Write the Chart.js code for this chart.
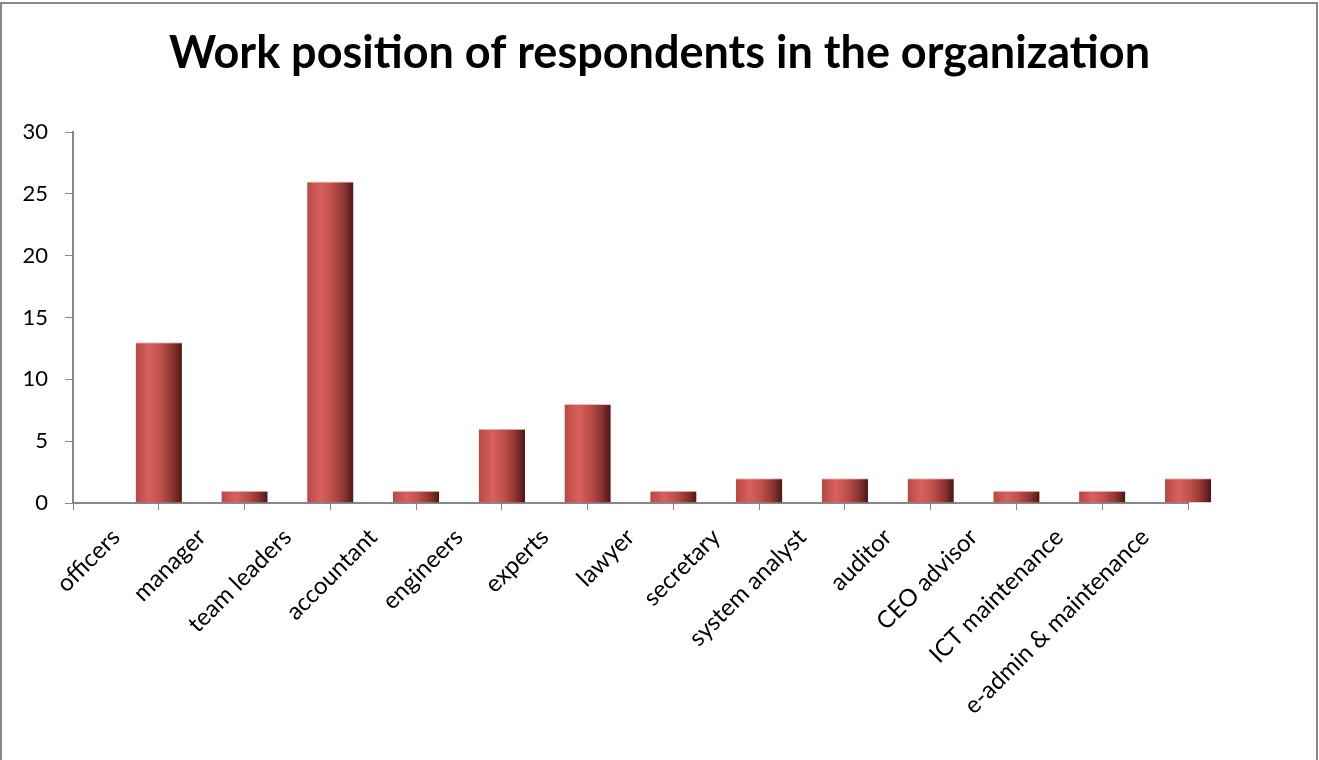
<!DOCTYPE html>
<html>
<head>
<meta charset="utf-8">
<title>Work position of respondents in the organization</title>
<script src="https://cdn.jsdelivr.net/npm/chart.js@4"></script>
<style>
  html, body { margin: 0; padding: 0; background: #fff; overflow: hidden; }
  #wrap { position: relative; width: 1319px; height: 760px; }
  #frame {
    position: absolute; left: 0; top: 2px; width: 1318px; height: 760px;
    box-sizing: border-box;
    border-left: 2px solid #878787; border-top: 2px solid #878787; border-right: 2px solid #878787;
    pointer-events: none;
  }
</style>
</head>
<body>
<div id="wrap">
  <canvas id="positionChart" width="1319" height="760"></canvas>
  <div id="frame"></div>
</div>
<script>
const positions = ['officers', 'manager', 'team leaders', 'accountant', 'engineers', 'experts',
  'lawyer', 'secretary', 'system analyst', 'auditor', 'CEO advisor', 'ICT maintenance',
  'e-admin & maintenance'];
const respondents = [13, 1, 26, 1, 6, 8, 1, 2, 2, 2, 1, 1, 2];
const yTicks = [0, 5, 10, 15, 20, 25, 30];

const axisGray = '#878787';
const barShare = 0.54;

// bars sit on the category boundaries, so they use a hidden linear axis 0..n
const barPoints = respondents.map((v, i) => ({ x: i + 1, y: v }));

function cylinderFill(c) {
  const chart = c.chart;
  const xs = chart.scales.xb;
  if (!xs || c.type !== 'data' || !c.raw) return '#c0504d';
  const step = xs.getPixelForValue(1) - xs.getPixelForValue(0);
  const half = step * barShare / 2;
  const cx = xs.getPixelForValue(c.raw.x);
  if (!isFinite(step) || !isFinite(cx) || step <= 0) return '#c0504d';
  const g = chart.ctx.createLinearGradient(cx - half, 0, cx + half, 0);
  g.addColorStop(0, '#b84845');
  g.addColorStop(0.3, '#d9605d');
  g.addColorStop(0.55, '#bd4f4b');
  g.addColorStop(0.8, '#8c3431');
  g.addColorStop(1, '#4e1515');
  return g;
}

const ctx = document.getElementById('positionChart').getContext('2d');
const positionChart = new Chart(ctx, {
  type: 'bar',
  data: {
    labels: positions,
    datasets: [{
      label: 'Respondents',
      data: barPoints,
      xAxisID: 'xb',
      backgroundColor: cylinderFill,
      borderColor: '#e8bcbb',
      borderWidth: { top: 1, left: 0, right: 0, bottom: 0 },
      borderSkipped: false,
      barPercentage: barShare,
      categoryPercentage: 1,
      clip: false
    }]
  },
  options: {
    responsive: false,
    animation: false,
    plugins: {
      legend: { display: false },
      tooltip: { enabled: false },
      title: {
        display: true,
        text: 'Work position of respondents in the organization',
        color: '#000',
        font: { family: 'Lato', size: 45, weight: 'bold', lineHeight: 1.2 },
        padding: { top: 26, bottom: 52 }
      }
    },
    scales: {
      x: {
        type: 'category',
        offset: true,
        afterFit: (s) => { s.height = 257; },
        border: { display: true, color: axisGray, width: 2 },
        grid: { offset: true, drawOnChartArea: false, drawTicks: true, tickLength: 7, color: axisGray },
        ticks: {
          autoSkip: false,
          minRotation: 45,
          maxRotation: 45,
          padding: 13,
          color: '#000',
          font: { family: 'Lato', size: 24 }
        }
      },
      xb: {
        type: 'linear',
        display: false,
        offset: false,
        min: 0,
        max: positions.length,
        ticks: { stepSize: 1 }
      },
      y: {
        min: yTicks[0],
        max: yTicks[yTicks.length - 1],
        afterFit: (s) => { s.width = 73; },
        afterBuildTicks: (s) => { s.ticks = yTicks.map(v => ({ value: v })); },
        border: { display: true, color: axisGray, width: 2 },
        grid: { drawOnChartArea: false, drawTicks: true, tickLength: 8, color: axisGray },
        ticks: {
          padding: 17,
          color: '#000',
          font: { family: 'Lato', size: 22 }
        }
      },
      // empty right-hand strip, keeps the title centred on the whole canvas
      gutter: {
        type: 'linear',
        position: 'right',
        afterFit: (s) => { s.width = 131; },
        border: { display: false },
        grid: { display: false },
        ticks: { display: false }
      }
    }
  }
});
// refresh once layout is settled so the bar shading picks up final pixels
positionChart.update();
</script>
</body>
</html>
